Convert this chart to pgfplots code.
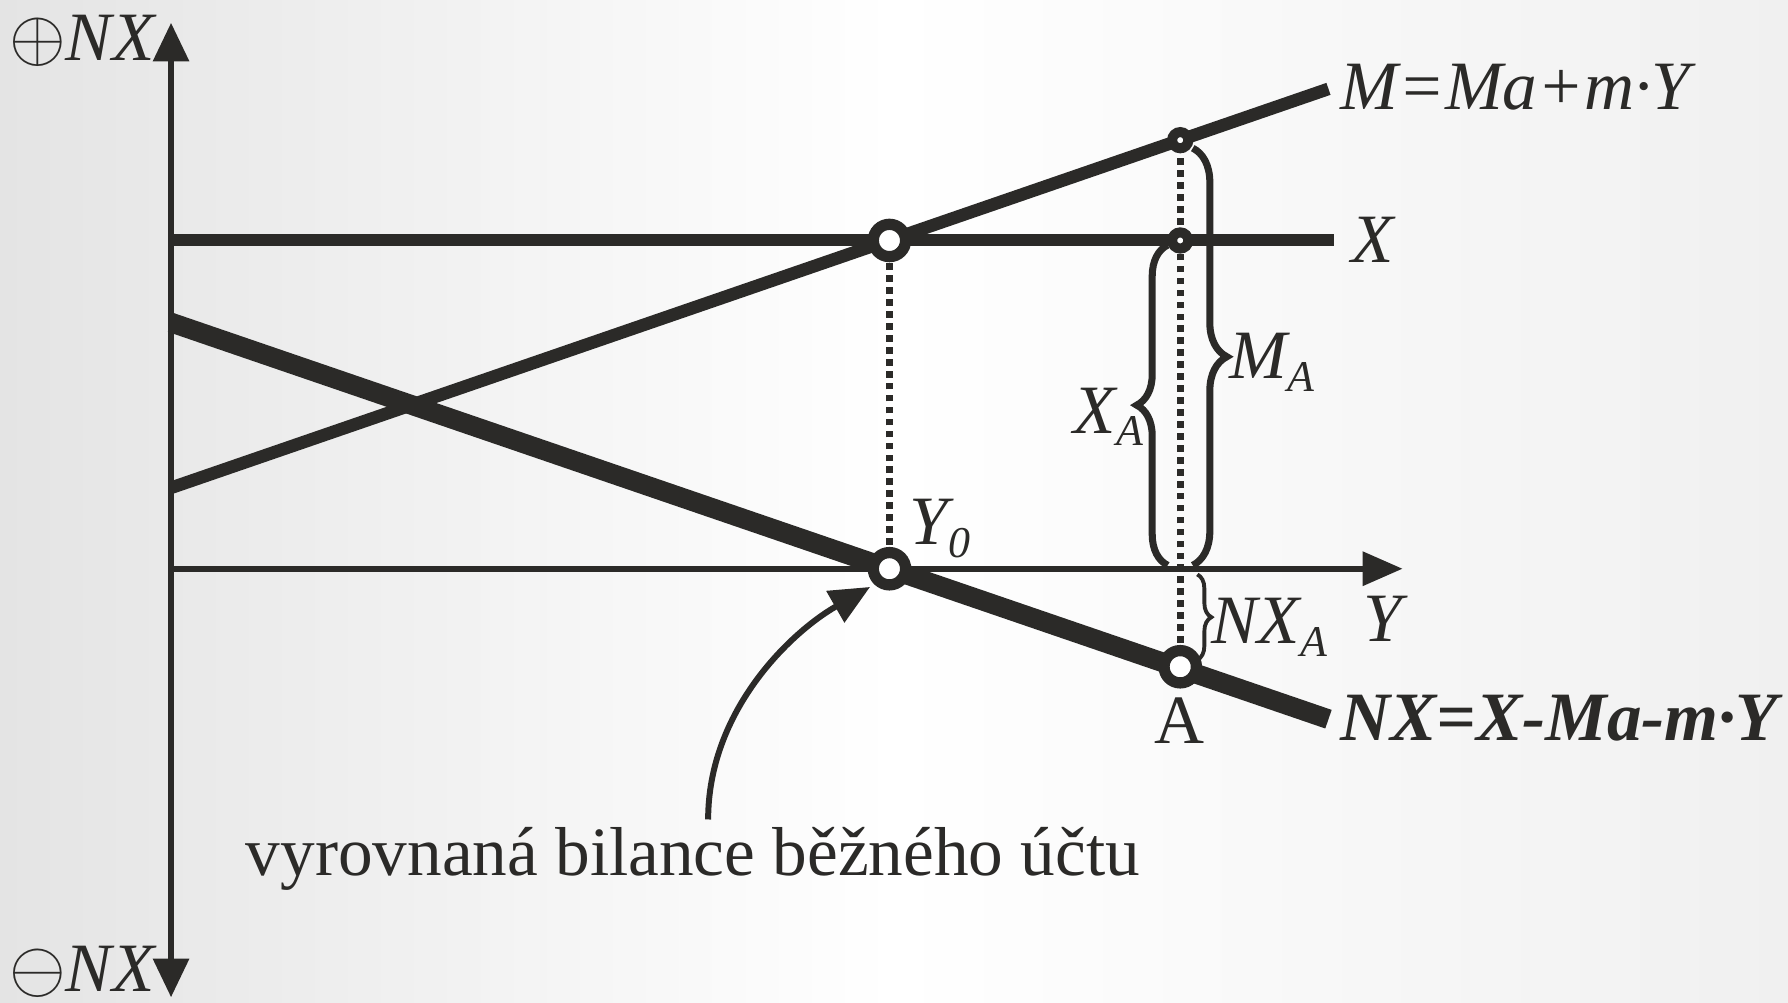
\documentclass[border=0pt]{standalone}
\usepackage{pgfplots}
\pgfplotsset{compat=1.18}
\usepackage{fontspec}
\setmainfont{Liberation Serif}
\usetikzlibrary{arrows.meta,decorations.pathreplacing}
\definecolor{ink}{RGB}{43,42,40}
\definecolor{bgL}{RGB}{228,228,228}
\definecolor{bgR}{RGB}{240,240,240}
\newcommand\fs{\fontsize{19.7}{23}\selectfont}
\newcommand\sub[1]{\raisebox{-3.6pt}{\fontsize{12.5}{13}\selectfont\itshape #1}}
\begin{document}
\begin{tikzpicture}
\begin{axis}[
  width=17.88cm, height=10.03cm, scale only axis,
  xmin=-150, xmax=1418, ymin=-381, ymax=499,
  axis lines=none, ticks=none, clip=false,
]
\fill[left color=bgL, right color=bgR, middle color=white] (rel axis cs:0,0) rectangle (rel axis cs:1,1);
\coordinate (bl) at (rel axis cs:0,0);
\coordinate (tr) at (rel axis cs:1,1);
% axes
\addplot[ink, line width=1.7pt, {Triangle[width=10pt,length=11pt]}-{Triangle[width=10pt,length=11pt]}] coordinates {(0,-376) (0,479)};
\addplot[ink, line width=1.6pt, -{Triangle[width=9.5pt,length=11.4pt]}] coordinates {(0,0) (1080,0)};
% dotted guides
\addplot[ink, line width=2pt, dash pattern=on 1.9pt off 1.5pt] coordinates {(630,0) (630,288)};
\addplot[ink, line width=2pt, dash pattern=on 1.9pt off 1.5pt] coordinates {(885,-86) (885,376)};
% lines
\addplot[ink, line width=3.4pt] coordinates {(0,288) (1020,288)};
\addplot[ink, line width=3.6pt] coordinates {(0,71) (1015,421)};
\addplot[ink, line width=5.6pt] coordinates {(0,216) (1015,-132)};
% braces
\draw[ink, line width=2pt, decorate, decoration={brace, amplitude=8.8pt}] (axis cs:874,3) -- (axis cs:874,284);
\draw[ink, line width=2pt, decorate, decoration={brace, amplitude=9.7pt}] (axis cs:896,369) -- (axis cs:896,3);
\draw[ink, line width=1.1pt, decorate, decoration={brace, amplitude=4pt}] (axis cs:900,-5) -- (axis cs:900,-80);
% curved arrow
\draw[ink, line width=1.7pt, -{Triangle[width=10pt,length=11.4pt]}] (axis cs:471,-220) .. controls (axis cs:471,-125) and (axis cs:543,-56) .. (axis cs:613,-16);
% points
\addplot[only marks, mark=*, mark size=4.6pt, mark options={fill=white, draw=ink, line width=3.2pt}] coordinates {(630,288) (630,0) (885,-86)};
\addplot[only marks, mark=*, mark size=2.3pt, mark options={fill=white, draw=ink, line width=2.85pt}] coordinates {(885,376) (885,288)};
% labels
\node[anchor=base east, font=\fs, text=ink, inner sep=0pt] at (axis cs:-14,446) {$\oplus$\itshape NX};
\node[anchor=base east, font=\fs, text=ink, inner sep=0pt] at (axis cs:-14,-371) {$\ominus$\itshape NX};
\node[anchor=base west, font=\fs, text=ink, inner sep=0pt] at (axis cs:1025,403) {\itshape M=Ma+m·Y};
\node[anchor=base west, font=\fs, text=ink, inner sep=0pt] at (axis cs:1035,269) {\itshape X};
\node[anchor=base west, font=\fs, text=ink, inner sep=0pt] at (axis cs:928,167) {\itshape M\sub{A}};
\node[anchor=base east, font=\fs, text=ink, inner sep=0pt] at (axis cs:853,119) {\itshape X\sub{A}};
\node[anchor=base west, font=\fs, text=ink, inner sep=0pt] at (axis cs:647,21) {\itshape Y\sub{0}};
\node[anchor=base west, font=\fs, text=ink, inner sep=0pt] at (axis cs:912,-66) {\itshape NX\sub{A}};
\node[anchor=base west, font=\fs, text=ink, inner sep=0pt] at (axis cs:1045,-64) {\itshape Y};
\node[anchor=base, font=\fs, text=ink, inner sep=0pt] at (axis cs:884,-153) {A};
\node[anchor=base west, font=\fs, text=ink, inner sep=0pt] at (axis cs:1025,-151) {\bfseries\itshape NX=X-Ma-m·Y};
\node[anchor=base west, font=\fs, text=ink, inner sep=0pt] at (axis cs:65,-269) {vyrovnaná bilance běžného účtu};
\end{axis}
\pgfresetboundingbox
\path[use as bounding box] (bl) rectangle (tr);
\end{tikzpicture}
\end{document}
